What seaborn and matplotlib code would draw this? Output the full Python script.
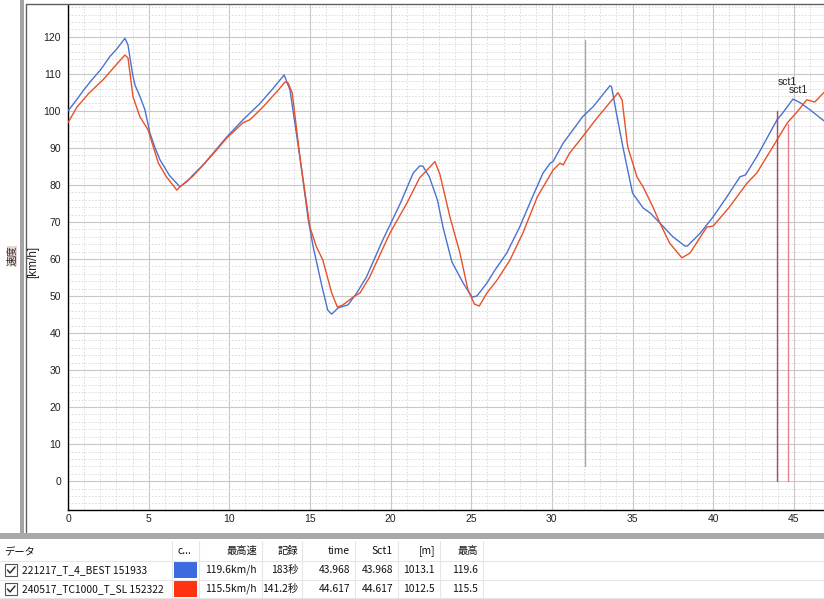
import matplotlib
matplotlib.use("Agg")
import matplotlib.pyplot as plt
import seaborn as sns
import pandas as pd
from matplotlib.lines import Line2D
from matplotlib.patches import Rectangle
from matplotlib.ticker import MultipleLocator

# ---------------- data ----------------
blue_name = "221217_T_4_BEST 151933"
red_name = "240517_TC1000_T_SL 152322"

blue_t = [0.0, 0.5, 1.0, 1.5, 2.0, 2.2, 2.6, 3.0, 3.53, 3.72, 4.0, 4.15, 4.46, 4.77,
          5.08, 5.4, 5.7, 6.3, 6.94, 7.4, 7.75, 8.4, 9.0, 9.85, 10.85, 11.9, 12.7,
          13.4, 13.76, 14.4, 14.9, 15.2, 15.75, 16.1, 16.35, 16.75, 17.36, 17.9,
          18.5, 19.5, 20.6, 21.4, 21.8, 22.0, 22.4, 22.9, 23.25, 23.8, 24.5, 25.05,
          25.35, 25.97, 26.47, 27.2, 28.0, 28.8, 29.45, 29.9, 30.07, 30.7, 31.9,
          32.55, 33.6, 33.7, 34.0, 34.4, 35.0, 35.65, 36.1, 36.7, 37.5, 38.25, 38.4,
          39.2, 40.0, 40.85, 41.66, 42.0, 42.7, 43.96, 44.3, 44.95, 45.4, 46.0, 46.87]
blue_v = [100.0, 102.8, 105.8, 108.5, 111.0, 112.2, 114.7, 116.6, 119.6, 117.8, 110.0,
          107.0, 103.9, 100.3, 94.0, 90.0, 86.8, 82.5, 79.5, 81.0, 82.7, 85.5, 88.6,
          93.0, 97.6, 102.0, 106.0, 109.7, 105.7, 86.8, 70.5, 63.3, 52.5, 46.2, 45.1,
          46.8, 47.6, 50.8, 55.1, 65.0, 75.0, 83.2, 85.1, 85.1, 82.2, 76.0, 68.6, 59.2,
          53.5, 49.7, 50.0, 53.5, 57.0, 61.6, 68.6, 76.8, 83.2, 85.9, 86.3, 91.3, 98.4,
          101.1, 106.8, 106.5, 99.4, 90.3, 77.8, 73.8, 72.4, 69.7, 66.0, 63.5, 63.5,
          67.0, 71.4, 76.8, 82.2, 82.7, 87.6, 97.6, 99.4, 103.2, 102.2, 100.3, 97.3]

red_t = [0.0, 0.55, 1.3, 2.17, 3.0, 3.53, 3.72, 4.03, 4.46, 4.96, 5.6, 6.1, 6.75, 6.94,
         7.75, 9.0, 9.85, 10.85, 11.28, 12.1, 13.15, 13.45, 13.64, 13.9, 14.4, 15.0,
         15.4, 15.8, 16.35, 16.7, 17.05, 17.67, 18.1, 18.7, 19.96, 21.0, 21.8, 22.75,
         23.06, 23.7, 24.3, 24.8, 25.2, 25.5, 25.97, 26.6, 27.4, 28.2, 29.1, 30.07,
         30.5, 30.7, 31.1, 31.9, 32.8, 34.1, 34.35, 34.7, 35.27, 35.65, 36.27, 36.7,
         37.3, 38.06, 38.56, 39.6, 40.0, 41.0, 42.1, 42.7, 43.7, 44.6, 45.2, 45.8,
         46.3, 46.87]
red_v = [96.8, 101.0, 104.8, 108.4, 112.5, 115.1, 114.3, 103.8, 98.4, 94.9, 85.9, 82.2,
         78.6, 79.5, 82.4, 88.4, 92.7, 96.8, 97.6, 101.1, 106.2, 107.8, 107.6, 104.9,
         86.8, 68.6, 63.3, 59.7, 50.8, 47.0, 47.6, 49.7, 50.8, 55.1, 67.0, 75.0, 81.9,
         86.3, 82.8, 71.0, 61.6, 51.6, 47.8, 47.3, 50.8, 54.3, 59.7, 67.0, 76.8, 84.0,
         85.9, 85.4, 88.6, 93.0, 98.1, 104.9, 103.0, 90.3, 82.2, 79.5, 74.0, 69.7,
         64.3, 60.3, 61.6, 68.6, 68.9, 74.0, 80.5, 83.2, 90.3, 96.8, 99.7, 103.0,
         102.4, 105.0]

# marker lines
cursor_x = 32.05
cursor_range = (4.0, 119.2)
sct1_x = [43.97, 44.62]
sct1_top = [100.0, 96.5]
sct1_label_y = [107.8, 105.6]
sct1_colors = ["#c0405a", "#e88090"]

x_ticks = list(range(0, 50, 5))
y_ticks = list(range(0, 130, 10))

# table
table_header = ["データ", "c...", "最高速", "記録", "time", "Sct1", "[m]", "最高"]
table_rows = [
    [blue_name, "", "119.6km/h", "183秒", "43.968", "43.968", "1013.1", "119.6"],
    [red_name, "", "115.5km/h", "141.2秒", "44.617", "44.617", "1012.5", "115.5"],
]

blue_color = "#4a72d0"
red_color = "#e8502a"
swatch_colors = ["#3c6ae0", "#ff3311"]

# ---------------- figure ----------------
sns.set_style("white")
plt.rcParams['font.family'] = ['Liberation Sans', 'Noto Sans CJK JP', 'DejaVu Sans']

W, H = 824, 599
fig = plt.figure(figsize=(W / 100, H / 100), dpi=100)

def fx(px):
    return px / W

def fy(py):
    return 1 - py / H

ax = fig.add_axes([fx(68), fy(510), fx(824) - fx(68), fy(5) - fy(510)])

df = pd.concat([
    pd.DataFrame({"t": blue_t, "v": blue_v, "series": blue_name}),
    pd.DataFrame({"t": red_t, "v": red_v, "series": red_name}),
], ignore_index=True)

sns.lineplot(data=df, x="t", y="v", hue="series", sort=False,
             palette={blue_name: blue_color, red_name: red_color},
             linewidth=1.0, legend=False, ax=ax, zorder=3)

ax.set_xlabel("")
ax.set_ylabel("")

ax.xaxis.set_major_locator(MultipleLocator(5))
ax.xaxis.set_minor_locator(MultipleLocator(1))
ax.yaxis.set_major_locator(MultipleLocator(10))
ax.yaxis.set_minor_locator(MultipleLocator(2))
ax.set_xticks(x_ticks)
ax.set_yticks(y_ticks)
ax.set_xticklabels([str(v) for v in x_ticks])
ax.set_yticklabels([str(v) for v in y_ticks])
ax.set_xlim(0, 46.87)
ax.set_ylim(-7.8, 128.6)

ax.grid(which="major", color="#c8c8c8", linewidth=0.8, linestyle="-", zorder=0)
ax.grid(which="minor", color="#d8d8d8", linewidth=0.6, linestyle=(0, (2, 2)), zorder=0)
ax.set_axisbelow(True)

for s in ["top", "right"]:
    ax.spines[s].set_visible(False)
for s in ["left", "bottom"]:
    ax.spines[s].set_color("black")
    ax.spines[s].set_linewidth(1.0)

ax.tick_params(axis="both", which="major", direction="in", length=4.2, width=1,
               color="black", labelsize=7.5, labelcolor="#222222")
ax.tick_params(axis="both", which="minor", direction="in", length=2.2, width=1,
               color="black")
ax.tick_params(axis="y", which="major", pad=5)
ax.tick_params(axis="x", which="major", pad=3)

# cursor line
ax.plot([cursor_x, cursor_x], list(cursor_range), color="#a8a8a8", linewidth=1.0, zorder=2)

# sct1 markers
for xv, top, ly, c in zip(sct1_x, sct1_top, sct1_label_y, sct1_colors):
    ax.plot([xv, xv], [0, top], color=c, linewidth=1.0, zorder=4)
    ax.text(xv + 0.05, ly, "sct1", fontsize=7.5, color="#222222", ha="left", va="center", zorder=5)

# y labels
fig.text(fx(33), fy(262), "[km/h]", rotation=90, fontsize=8.5, ha="center", va="center",
         color="#222222")
fig.text(fx(12), fy(256), "速度", rotation=90, fontsize=7.5, ha="center", va="center",
         color="#333333", family=["Noto Sans CJK JP", "DejaVu Sans"],
         bbox=dict(boxstyle="square,pad=0.0", fc="#d8b0a8", ec="none", alpha=0.5))

# panel frame
fig.add_artist(Rectangle((fx(20), fy(533)), fx(4), fy(0) - fy(533),
                         transform=fig.transFigure, facecolor="#a4a4a4", edgecolor="none"))
fig.add_artist(Line2D([fx(25.5), fx(25.5)], [fy(4), fy(532)], transform=fig.transFigure,
                      color="#606060", linewidth=1.0))
fig.add_artist(Line2D([fx(25.5), fx(824)], [fy(4), fy(4)], transform=fig.transFigure,
                      color="#606060", linewidth=1.0))
fig.add_artist(Rectangle((0, fy(539)), 1, fy(533) - fy(539),
                         transform=fig.transFigure, facecolor="#a8a8a8", edgecolor="none"))

# table
tfont = ["Noto Sans CJK JP", "DejaVu Sans"]
tsize = 7.4
row_y = [551, 570, 589]
col_sep = [172, 199, 262, 302, 355, 398, 440, 483]
for xs in col_sep:
    fig.add_artist(Line2D([fx(xs), fx(xs)], [fy(541), fy(599)], transform=fig.transFigure,
                          color="#e6e6e6", linewidth=0.8))
for ys in [561, 579.5, 598]:
    fig.add_artist(Line2D([0, 1], [fy(ys), fy(ys)], transform=fig.transFigure,
                          color="#e6e6e6", linewidth=0.8))

# header
fig.text(fx(4), fy(row_y[0]), table_header[0], fontsize=tsize, family=tfont, ha="left",
         va="center", color="#111111")
fig.text(fx(177), fy(row_y[0]), table_header[1], fontsize=tsize, family=tfont, ha="left",
         va="center", color="#111111")
right_edges = [257, 298, 350, 393, 435, 478]
for txt, rx in zip(table_header[2:], right_edges):
    fig.text(fx(rx), fy(row_y[0]), txt, fontsize=tsize, family=tfont, ha="right",
             va="center", color="#111111")

for r, (row, sc) in enumerate(zip(table_rows, swatch_colors)):
    yc = row_y[r + 1]
    # checkbox
    fig.add_artist(Rectangle((fx(5), fy(yc + 6)), fx(12), fy(yc - 6) - fy(yc + 6),
                             transform=fig.transFigure, facecolor="white",
                             edgecolor="#555555", linewidth=0.8))
    fig.add_artist(Line2D([fx(7.5), fx(10), fx(15)], [fy(yc), fy(yc + 3), fy(yc - 3)],
                          transform=fig.transFigure, color="#222222", linewidth=1.0))
    fig.text(fx(22), fy(yc), row[0], fontsize=tsize, family=tfont, ha="left",
             va="center", color="#111111")
    fig.add_artist(Rectangle((fx(174), fy(yc + 8)), fx(23), fy(yc - 8) - fy(yc + 8),
                             transform=fig.transFigure, facecolor=sc, edgecolor="none"))
    for txt, rx in zip(row[2:], right_edges):
        fig.text(fx(rx), fy(yc), txt, fontsize=tsize, family=tfont, ha="right",
                 va="center", color="#111111")

fig.savefig("out.png", dpi=100)
